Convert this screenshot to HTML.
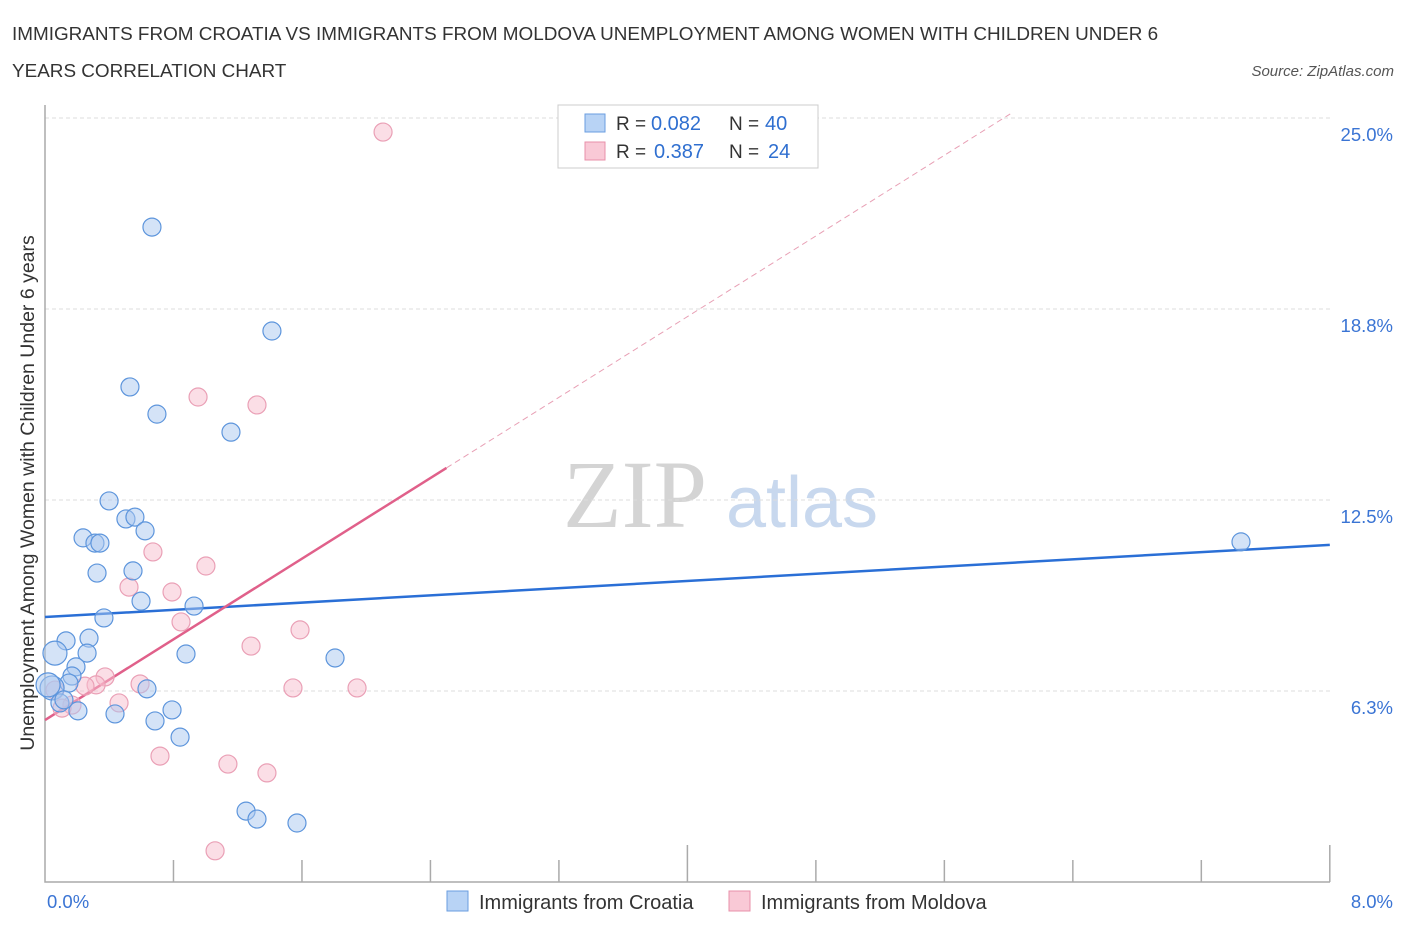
<!DOCTYPE html>
<html><head><meta charset="utf-8"><style>
body{margin:0;background:#fff;font-family:"Liberation Sans",sans-serif;}
svg text{font-family:"Liberation Sans",sans-serif;}
</style></head><body>
<svg id="chart" width="1406" height="930">
<text x="12" y="40" font-size="18.9" fill="#333">IMMIGRANTS FROM CROATIA VS IMMIGRANTS FROM MOLDOVA UNEMPLOYMENT AMONG WOMEN WITH CHILDREN UNDER 6</text>
<text x="12" y="77" font-size="18.9" fill="#333">YEARS CORRELATION CHART</text>
<text x="1394" y="76" font-size="15" fill="#555" font-style="italic" text-anchor="end">Source: ZipAtlas.com</text>
<text x="34" y="493" font-size="19.5" fill="#333" text-anchor="middle" transform="rotate(-90 34 493)">Unemployment Among Women with Children Under 6 years</text>
<g><text x="635" y="527" font-size="96" fill="#d4d4d4" style="font-family:'Liberation Serif',serif" text-anchor="middle">ZIP</text><text x="802" y="527" font-size="72" fill="#c8d8ee" text-anchor="middle">atlas</text></g>
<g id="grid"></g><g id="axes"></g><g id="lines"></g><g id="pts"></g>
<g>
<rect x="558" y="105" width="260" height="63" fill="#fff" stroke="#ccc"/>
<rect x="585" y="114" width="20" height="18" fill="#b8d3f5" stroke="#6a9ee0"/>
<text x="616" y="130" font-size="19" fill="#333">R =</text>
<text x="651" y="130" font-size="20" fill="#2f6fd0">0.082</text>
<text x="729" y="130" font-size="19" fill="#333">N =</text>
<text x="765" y="130" font-size="20" fill="#2f6fd0">40</text>
<rect x="585" y="142" width="20" height="18" fill="#f9c9d6" stroke="#e890aa"/>
<text x="616" y="158" font-size="19" fill="#333">R =</text>
<text x="654" y="158" font-size="20" fill="#2f6fd0">0.387</text>
<text x="729" y="158" font-size="19" fill="#333">N =</text>
<text x="768" y="158" font-size="20" fill="#2f6fd0">24</text>
</g>
<g>
<rect x="447" y="891" width="21" height="20" fill="#b8d3f5" stroke="#6a9ee0"/>
<text x="479" y="909" font-size="20" fill="#333">Immigrants from Croatia</text>
<rect x="729" y="891" width="21" height="20" fill="#f9c9d6" stroke="#e890aa"/>
<text x="761" y="909" font-size="20" fill="#333">Immigrants from Moldova</text>
</g>
</svg>
<script>
const blueX=[0.666,1.413,0.529,0.697,1.158,0.399,0.504,0.560,0.623,0.237,0.311,0.342,0.324,0.548,0.598,0.928,0.367,0.131,0.274,0.062,0.262,0.878,0.193,0.168,1.806,0.149,0.635,0.044,0.093,0.205,0.436,0.685,0.791,0.841,1.252,1.320,1.569,7.447,0.019,0.118];
const blueY=[21.43,18.03,16.20,15.31,14.72,12.47,11.88,11.94,11.49,11.26,11.09,11.09,10.11,10.18,9.19,9.03,8.64,7.89,7.98,7.49,7.49,7.46,7.04,6.74,7.33,6.51,6.32,6.35,5.86,5.60,5.50,5.27,5.63,4.74,2.32,2.06,1.93,11.13,6.45,5.96];
const pinkX=[2.105,0.953,1.320,0.672,1.002,0.523,0.791,0.847,1.588,1.283,0.374,0.318,0.249,0.592,1.544,1.943,0.461,0.168,0.106,0.716,1.139,1.382,1.059,0.062];
const pinkY=[24.54,15.87,15.61,10.80,10.34,9.65,9.49,8.51,8.25,7.72,6.71,6.45,6.41,6.48,6.35,6.35,5.86,5.79,5.69,4.12,3.86,3.57,1.02,6.28];
const yTicks=[25,18.75,12.5,6.25];
const yTickLabels=["25.0%","18.8%","12.5%","6.3%"];
const xTickLabels=["0.0%","8.0%"];
const blueTrend=[8.67,11.03];
const pinkTrend=[5.30,3.3];
const NS="http://www.w3.org/2000/svg";
const X=v=>45+v*160.6, Y=v=>882-v*30.56;
function mk(p,t,a){const e=document.createElementNS(NS,t);for(const k in a)e.setAttribute(k,a[k]);document.getElementById(p).appendChild(e);return e;}
yTicks.forEach((t,i)=>{
 const g=mk('grid','line',{x1:45,x2:1330,y1:Y(t),y2:Y(t),stroke:'#ddd','stroke-dasharray':'4,3'});
 
 
 const l=mk('grid','text',{x:1393,y:Y(t)+23,'font-size':18.5,fill:'#3a74d4','text-anchor':'end'});
 l.textContent=yTickLabels[i];
 
 
});
const ax=mk('axes','path',{d:'M45,105V882H1330',fill:'none',stroke:'#aaa','stroke-width':1.5});


for(let i=1;i<=10;i++){const tk=mk('axes','line',{x1:X(i*0.8),x2:X(i*0.8),y1:(i%5==0)?845:860,y2:882,stroke:'#aaa','stroke-width':1.5});
 
 }
[[0,'start',47],[8,'end',1393]].forEach((d,i)=>{const t=mk('axes','text',{x:d[2],y:908,'font-size':18.5,fill:'#3a74d4','text-anchor':d[1]});t.textContent=xTickLabels[i];
 
 });
const bl=mk('lines','line',{x1:X(0),y1:Y(blueTrend[0]),x2:X(8),y2:Y(blueTrend[1]),stroke:'#2a6fd6','stroke-width':2.5});


const pl=mk('lines','line',{x1:X(0),y1:Y(pinkTrend[0]),x2:X(2.5),y2:Y(pinkTrend[0]+pinkTrend[1]*2.5),stroke:'#e0608a','stroke-width':2.5});


const pd=mk('lines','line',{x1:X(2.5),y1:Y(pinkTrend[0]+pinkTrend[1]*2.5),x2:X(6.01),y2:Y(pinkTrend[0]+pinkTrend[1]*6.01),stroke:'#e8a0b5','stroke-width':1,'stroke-dasharray':'6,4'});


pinkX.forEach((x,i)=>{const c=mk('pts','circle',{cx:X(x),cy:Y(pinkY[i]),r:9,fill:'rgba(248,190,206,0.5)',stroke:'#eaa0b6','stroke-width':1.2});
 
 });
blueX.forEach((x,i)=>{const c=mk('pts','circle',{cx:X(x),cy:Y(blueY[i]),r:(x<0.07&&blueY[i]>6&&blueY[i]<7.6)?12:9,fill:'rgba(170,200,240,0.5)',stroke:'#5d95dc','stroke-width':1.2});
 
 });
</script>
</body></html>
